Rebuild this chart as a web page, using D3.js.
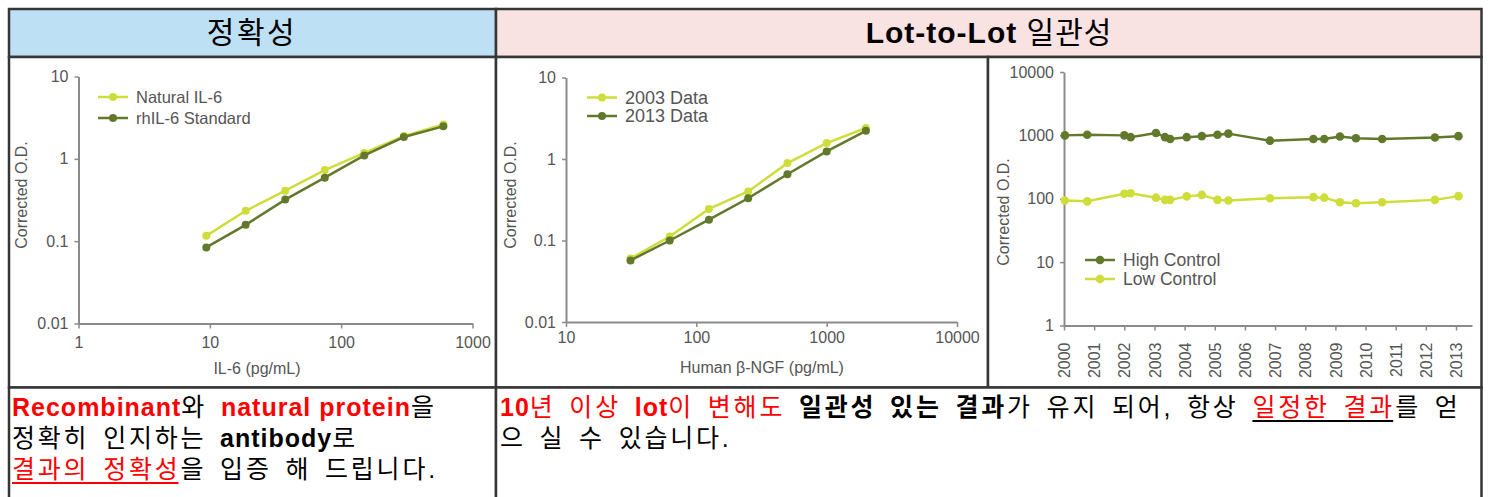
<!DOCTYPE html>
<html>
<head>
<meta charset="utf-8">
<script src="https://cdn.jsdelivr.net/npm/d3@7"></script>
<style>
body{margin:0;background:#fff}
svg text{font-family:"Liberation Sans",Arial,"Noto Sans CJK KR",sans-serif;white-space:pre}
</style>
</head>
<body>
<svg id="chart" width="1488" height="497"></svg>
<script>
// chart 1 : IL-6 standard curves
const il6_conc = [9.4, 18.75, 37.5, 75, 150, 300, 600]
const natural_il6 = [0.116, 0.234, 0.41, 0.73, 1.18, 1.89, 2.62]
const rhil6_standard = [0.084, 0.158, 0.32, 0.59, 1.10, 1.84, 2.48]
const il6_ticks = [1, 10, 100, 1000]

// chart 2 : beta-NGF 2003 vs 2013
const ngf_conc = [31.25, 62.5, 125, 250, 500, 1000, 2000]
const data_2003 = [0.060, 0.112, 0.244, 0.40, 0.89, 1.57, 2.40]
const data_2013 = [0.057, 0.100, 0.180, 0.33, 0.65, 1.24, 2.22]
const ngf_ticks = [10, 100, 1000, 10000]
const od_ticks = [0.01, 0.1, 1, 10]

// chart 3 : controls over the years
const lot_dates = [2000.03, 2000.77, 2002.0, 2002.21, 2003.05, 2003.35, 2003.52, 2004.07, 2004.57, 2005.09, 2005.45, 2006.83, 2008.27, 2008.63, 2009.15, 2009.68, 2010.55, 2012.3, 2013.08]
const high_control = [1000, 1023, 1000, 937, 1092, 937, 878, 937, 973, 1023, 1065, 825, 878, 878, 962, 902, 878, 926, 973]
const low_control = [94, 91, 120, 122, 104, 96, 96, 109, 115, 96, 94, 102, 106, 104, 88, 85, 88, 96, 110]
const control_ticks = [1, 10, 100, 1000, 10000]
const year_ticks = [2000, 2001, 2002, 2003, 2004, 2005, 2006, 2007, 2008, 2009, 2010, 2011, 2012, 2013]

// table texts
const header_left = "정확성"
const header_right = [["Lot-to-Lot", 1], [" 일관성", 0]]
const left_lines = [
    [{t:"Recombinant", c:"#ff0000", b:1}, {t:"와 "}, {t:"natural protein", c:"#ff0000", b:1}, {t:"을"}],
    [{t:"정확히 인지하는 "}, {t:"antibody", b:1}, {t:"로"}],
    [{t:"결과의 정확성", c:"#ff0000", u:"#ff0000"}, {t:"을 입증 해 드립니다."}]
]
const right_lines = [
    [{t:"10", c:"#ff0000", b:1}, {t:"년 이상 ", c:"#ff0000"}, {t:"lot", c:"#ff0000", b:1}, {t:"이 변해도 ", c:"#ff0000"},
     {t:"일관성 있는 결과", b:1}, {t:"가 유지 되어, 항상 "}, {t:"일정한 결과", c:"#ff0000", u:"#000"}, {t:"를 얻"}],
    [{t:"으 실 수 있습니다."}]
]

const light = "#cfdd3a"
const dark = "#62792b"
const axis_color = "#8a8a8a"
const label_color = "#555"
const border = "#363636"

const svg = d3.select("#chart")

function cell(x0, y0, x1, y1, fill){
    svg.append("rect")
        .attr("x", x0).attr("y", y0)
        .attr("width", x1 - x0).attr("height", y1 - y0)
        .attr("fill", fill)
        .attr("stroke", border)
        .attr("stroke-width", 2.5)
}

cell(9, 9, 496, 57, "#bde0f5")
cell(496, 9, 1481.5, 57, "#f9e2e2")
cell(9, 57, 496, 387.5, "#fff")
cell(496, 57, 988, 387.5, "#fff")
cell(988, 57, 1481.5, 387.5, "#fff")
cell(9, 387.5, 496, 520, "#fff")
cell(496, 387.5, 1481.5, 520, "#fff")

// headers
svg.append("text")
    .attr("x", 252).attr("y", 32)
    .attr("text-anchor", "middle").attr("dominant-baseline", "central")
    .attr("font-size", 30).attr("letter-spacing", 2.5)
    .text(header_left)
var hr = svg.append("text")
    .attr("x", 989).attr("y", 32)
    .attr("text-anchor", "middle").attr("dominant-baseline", "central")
    .attr("font-size", 30).attr("letter-spacing", 1)
hr.selectAll("tspan").data(header_right).join("tspan")
    .attr("font-weight", d => d[1] ? "bold" : "normal")
    .text(d => d[0])

function drawChart(c){
    const g = svg.append("g")
    const x0 = c.x.range()[0], y0 = c.y.range()[0]

    var ya = g.append("g").attr("transform", `translate(${x0},0)`)
        .call(d3.axisLeft(c.y).tickValues(c.yTicks).tickFormat(d => d).tickSize(4).tickPadding(6).tickSizeOuter(0))
    var xa = g.append("g").attr("transform", `translate(0,${y0})`)
        .call(d3.axisBottom(c.x).tickValues(c.xTicks).tickFormat(d => d).tickSize(5).tickPadding(c.xPad).tickSizeOuter(0))
    if (c.rotate){
        xa.selectAll(".tick text")
            .attr("transform", "rotate(-90)")
            .attr("x", -c.xPad).attr("y", 0).attr("dy", "0.35em")
            .attr("text-anchor", "end")
    }
    g.selectAll(".domain").attr("stroke", axis_color).attr("stroke-width", 2)
    g.selectAll(".tick line").attr("stroke", axis_color).attr("stroke-width", 1.5)
    g.selectAll(".tick text").attr("fill", label_color).attr("font-size", 16)
        .attr("font-family", "Liberation Sans, Arial, sans-serif")

    c.series.forEach(s => {
        var line = d3.line().x((d, i) => c.x(c.xs[i])).y(d => c.y(d))
        g.append("path").attr("d", line(s.values))
            .attr("fill", "none").attr("stroke", s.color).attr("stroke-width", 2.5)
        g.selectAll(null).data(s.values).join("circle")
            .attr("cx", (d, i) => c.x(c.xs[i])).attr("cy", d => c.y(d))
            .attr("r", c.r).attr("fill", s.color)
    })

    // legend
    c.legend.items.forEach((s, i) => {
        var ly = c.legend.y + i * c.legend.dy
        g.append("line").attr("x1", c.legend.x).attr("x2", c.legend.x + 30)
            .attr("y1", ly).attr("y2", ly).attr("stroke", s.color).attr("stroke-width", 2.5)
        g.append("circle").attr("cx", c.legend.x + 15).attr("cy", ly).attr("r", c.r).attr("fill", s.color)
        g.append("text").attr("x", c.legend.x + 38).attr("y", ly).attr("dy", "0.35em")
            .attr("font-size", c.legend.size).attr("fill", label_color).text(s.name)
    })

    if (c.xTitle){
        g.append("text").attr("x", c.xTitle.x).attr("y", c.xTitle.y)
            .attr("text-anchor", "middle").attr("font-size", 16).attr("fill", label_color)
            .text(c.xTitle.text)
    }
    g.append("text")
        .attr("transform", `translate(${c.yTitle.x},${c.yTitle.y}) rotate(-90)`)
        .attr("text-anchor", "middle").attr("dy", "0.35em")
        .attr("font-size", 16).attr("fill", label_color)
        .text("Corrected O.D.")
}

var s_natural = {name: "Natural IL-6", color: light, values: natural_il6}
var s_rh = {name: "rhIL-6 Standard", color: dark, values: rhil6_standard}
drawChart({
    x: d3.scaleLog().domain([1, 1000]).range([78.5, 472.5]),
    y: d3.scaleLog().domain([0.01, 10]).range([323.5, 76.5]),
    xs: il6_conc, xTicks: il6_ticks, yTicks: od_ticks, xPad: 8, r: 4,
    series: [s_natural, s_rh],
    legend: {x: 98, y: 97, dy: 21, size: 16.5, items: [s_natural, s_rh]},
    xTitle: {x: 257, y: 374, text: "IL-6 (pg/mL)"},
    yTitle: {x: 21, y: 195}
})

var s_2003 = {name: "2003 Data", color: light, values: data_2003}
var s_2013 = {name: "2013 Data", color: dark, values: data_2013}
drawChart({
    x: d3.scaleLog().domain([10, 10000]).range([566, 957]),
    y: d3.scaleLog().domain([0.01, 10]).range([322, 77.5]),
    xs: ngf_conc, xTicks: ngf_ticks, yTicks: od_ticks, xPad: 5, r: 4,
    series: [s_2003, s_2013],
    legend: {x: 587, y: 97.5, dy: 18.5, size: 18, items: [s_2003, s_2013]},
    xTitle: {x: 762, y: 373, text: "Human β-NGF (pg/mL)"},
    yTitle: {x: 510, y: 195}
})

var s_high = {name: "High Control", color: dark, values: high_control}
var s_low = {name: "Low Control", color: light, values: low_control}
drawChart({
    x: d3.scaleLinear().domain([2000, 2013.53]).range([1064, 1472]),
    y: d3.scaleLog().domain([1, 10000]).range([325.5, 72]),
    xs: lot_dates, xTicks: year_ticks, yTicks: control_ticks, xPad: 17, r: 4.3, rotate: true,
    series: [s_low, s_high],
    legend: {x: 1085, y: 260, dy: 19, size: 17.5, items: [s_high, s_low]},
    yTitle: {x: 1003, y: 212}
})

// body texts, written segment by segment so underlines can be measured
function writeLines(lines, x, y0, dy, size){
    lines.forEach((segs, li) => {
        var cx = x
        var y = y0 + li * dy
        segs.forEach(s => {
            var latin = /^[\x00-\x7f]+$/.test(s.t)
            var t = svg.append("text").attr("x", cx).attr("y", y)
                .attr("font-size", size)
                .attr("letter-spacing", latin ? 1 : 2.8).attr("word-spacing", latin ? 0 : 4)
                .attr("font-weight", s.b ? "bold" : "normal")
                .attr("fill", s.c || "#000")
                .text(s.t)
            var w = t.node().getComputedTextLength()
            if (s.u){
                svg.append("line").attr("x1", cx).attr("x2", cx + w - 2)
                    .attr("y1", y + 5).attr("y2", y + 5)
                    .attr("stroke", s.u).attr("stroke-width", 2)
            }
            cx += w
        })
    })
}
writeLines(left_lines, 12, 416, 31, 25)
writeLines(right_lines, 500, 416, 31, 25)
</script>
</body>
</html>
